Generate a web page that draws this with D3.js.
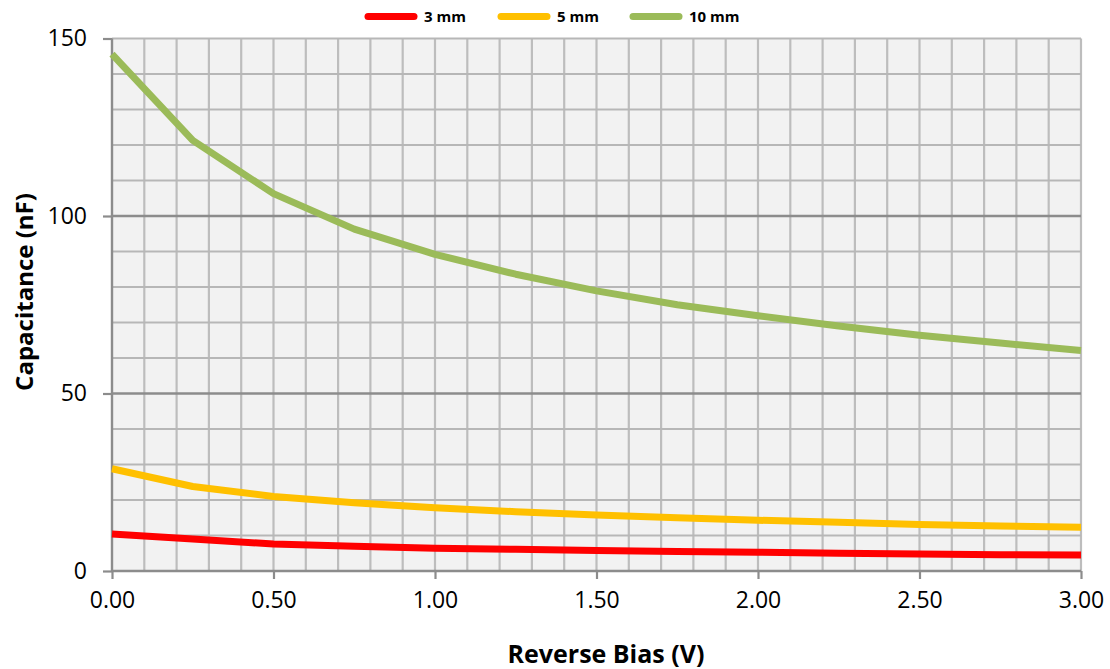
<!DOCTYPE html>
<html><head><meta charset="utf-8">
<script src="https://cdn.jsdelivr.net/npm/d3@7"></script>
<style>body{margin:0;background:#fff}svg{display:block}</style>
</head><body><svg id="c" width="1110" height="669"></svg>
<script>
const bias = [0, 0.25, 0.5, 0.75, 1.0, 1.25, 1.5, 1.75, 2.0, 2.25, 2.5, 2.75, 3.0];
const cap3 = [10.4, 9.0, 7.6, 7.0, 6.4, 6.1, 5.8, 5.5, 5.3, 5.0, 4.8, 4.6, 4.5];
const cap5 = [28.8, 23.8, 21.0, 19.2, 17.8, 16.7, 15.8, 15.0, 14.3, 13.7, 13.1, 12.7, 12.3];
const cap10 = [145.6, 121.3, 106.3, 96.3, 89.2, 83.6, 78.9, 75.0, 71.9, 69.0, 66.4, 64.2, 62.1];
const seriesNames = ["3 mm", "5 mm", "10 mm"];
const seriesColors = ["#ff0000", "#ffc000", "#9bbb59"];
const xTicks = [0, 0.5, 1.0, 1.5, 2.0, 2.5, 3.0];
const yTicks = [0, 50, 100, 150];

const series = [cap3, cap5, cap10];
const svg = d3.select("#c");
const L = 112, R = 1081, T = 38.5, B = 571;
const x = d3.scaleLinear().domain([0, 3]).range([L, R]);
const y = d3.scaleLinear().domain([0, 150]).range([B, T]);
const font = "'Open Sans', 'Liberation Sans', sans-serif";

svg.append("rect").attr("x", L).attr("y", T).attr("width", R - L).attr("height", B - T).attr("fill", "#f2f2f2");

// vertical minor grid
const vg = d3.range(1, 31).map(i => i / 10);
svg.append("g").selectAll("line").data(vg).join("line")
  .attr("x1", d => x(d)).attr("x2", d => x(d)).attr("y1", T).attr("y2", B)
  .attr("stroke", "#bdbdbd").attr("stroke-width", 2.2);
// horizontal minor grid
const hg = d3.range(1, 16).map(i => i * 10).filter(v => v % 50 !== 0 || v === 150);
svg.append("g").selectAll("line").data(hg).join("line")
  .attr("x1", L).attr("x2", R).attr("y1", d => y(d)).attr("y2", d => y(d))
  .attr("stroke", "#b7b7b7").attr("stroke-width", 2.2);
// horizontal major grid
svg.append("g").selectAll("line").data([50, 100]).join("line")
  .attr("x1", L).attr("x2", R).attr("y1", d => y(d)).attr("y2", d => y(d))
  .attr("stroke", "#8c8c8c").attr("stroke-width", 2.4);

// axes
const yAxis = d3.axisLeft(y).tickValues(yTicks).tickSize(9).tickPadding(16).tickFormat(d3.format("d"));
const gy = svg.append("g").attr("transform", `translate(${L},0)`).call(yAxis);
const xAxis = d3.axisBottom(x).tickValues(xTicks).tickSize(8).tickPadding(13).tickFormat(d3.format(".2f"));
const gx = svg.append("g").attr("transform", `translate(0,${B})`).call(xAxis);
[gx, gy].forEach(g => {
  g.select(".domain").attr("stroke", "#8c8c8c").attr("stroke-width", 2.4);
  g.selectAll(".tick line").attr("stroke", "#8c8c8c").attr("stroke-width", 2.2);
  g.selectAll("text").attr("font-family", font).attr("font-size", 23).attr("fill", "#000");
});
gy.select(".domain").attr("d", `M0,${T}V${B}`);
gx.select(".domain").attr("d", `M${L},0H${R}`);

// lines
const line = d3.line().x((d, i) => x(bias[i])).y(d => y(d));
svg.append("g").selectAll("path").data(series).join("path")
  .attr("d", d => line(d)).attr("fill", "none")
  .attr("stroke", (d, i) => seriesColors[i]).attr("stroke-width", 7)
  .attr("stroke-linejoin", "round");

// legend
const legX = [368, 501, 633];
const lg = svg.append("g").selectAll("g").data(seriesNames).join("g")
  .attr("transform", (d, i) => `translate(${legX[i]},16.5)`);
lg.append("line").attr("x1", 0).attr("x2", 46).attr("stroke", (d, i) => seriesColors[i])
  .attr("stroke-width", 7).attr("stroke-linecap", "round");
lg.append("text").attr("x", 56).attr("y", 5.5).text(d => d)
  .attr("font-family", font).attr("font-weight", "bold").attr("font-size", 15);

// axis titles
svg.append("text").attr("x", 606).attr("y", 663).attr("text-anchor", "middle")
  .attr("font-family", font).attr("font-weight", "bold").attr("font-size", 25)
  .text("Reverse Bias (V)");
svg.append("text").attr("transform", "translate(33,292) rotate(-90)").attr("text-anchor", "middle")
  .attr("font-family", font).attr("font-weight", "bold").attr("font-size", 24)
  .text("Capacitance (nF)");
</script></body></html>
